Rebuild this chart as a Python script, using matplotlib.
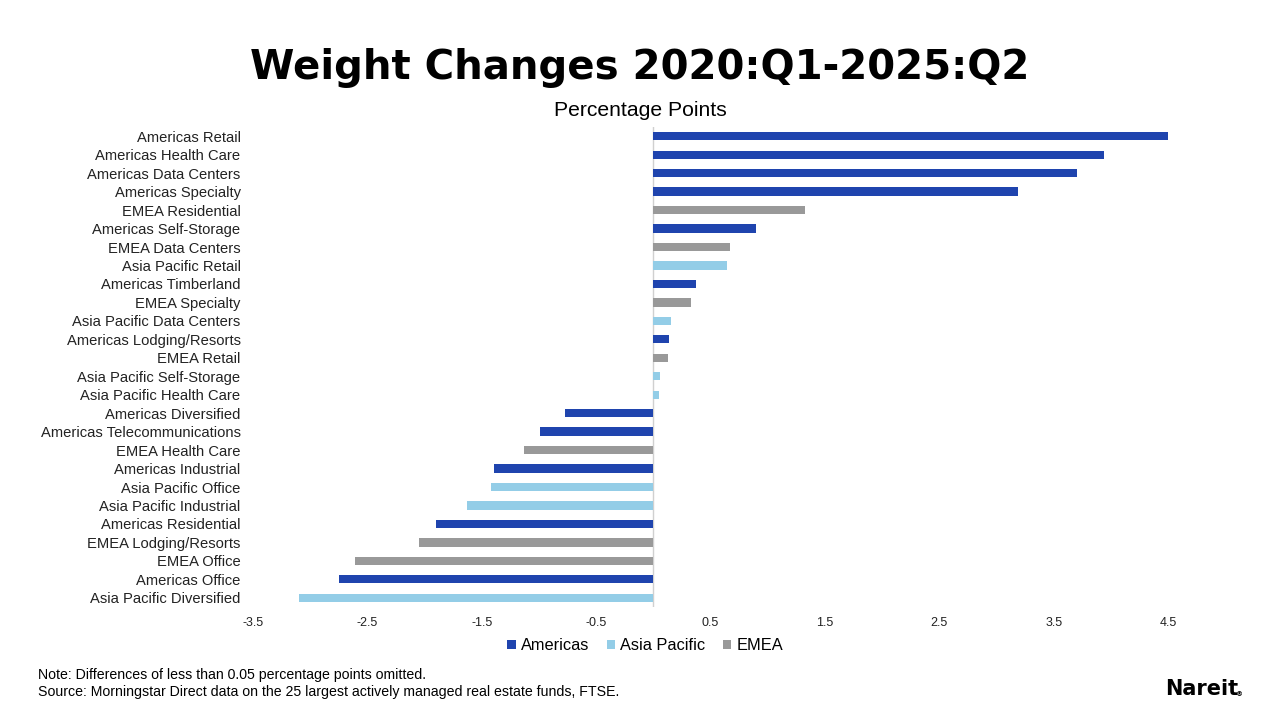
import matplotlib
matplotlib.use("Agg")
import matplotlib.pyplot as plt
from matplotlib.patches import Patch
import numpy as np

categories = [
    "Americas Retail", "Americas Health Care", "Americas Data Centers", "Americas Specialty",
    "EMEA Residential", "Americas Self-Storage", "EMEA Data Centers", "Asia Pacific Retail",
    "Americas Timberland", "EMEA Specialty", "Asia Pacific Data Centers", "Americas Lodging/Resorts",
    "EMEA Retail", "Asia Pacific Self-Storage", "Asia Pacific Health Care", "Americas Diversified",
    "Americas Telecommunications", "EMEA Health Care", "Americas Industrial", "Asia Pacific Office",
    "Asia Pacific Industrial", "Americas Residential", "EMEA Lodging/Resorts", "EMEA Office",
    "Americas Office", "Asia Pacific Diversified",
]
values = [
    4.50, 3.94, 3.70, 3.19,
    1.33, 0.90, 0.67, 0.645,
    0.375, 0.33, 0.155, 0.135,
    0.125, 0.06, 0.05, -0.77,
    -0.99, -1.13, -1.39, -1.42,
    -1.63, -1.90, -2.05, -2.61,
    -2.75, -3.10,
]
regions = ["Americas", "Asia Pacific", "EMEA"]
region_colors = {"Americas": "#1F44AE", "Asia Pacific": "#93CDE7", "EMEA": "#999999"}
x_ticks = [-3.5, -2.5, -1.5, -0.5, 0.5, 1.5, 2.5, 3.5, 4.5]


def region_of(name):
    for r in regions:
        if name.startswith(r):
            return r
    return None


font = "Liberation Sans"
fig = plt.figure(figsize=(12.8, 7.2), dpi=100)
ax = fig.add_axes([0.1977, 0.1569, 0.7148, 0.6667])

y = np.arange(len(categories))
colors = [region_colors[region_of(c)] for c in categories]
ax.barh(y, values, height=0.45, color=colors)

ax.set_xlim(-3.5, 4.5)
ax.set_ylim(len(categories) - 0.5, -0.5)
ax.set_xticks(x_ticks)
ax.set_xticklabels([f"{t:g}" for t in x_ticks], fontsize=9, family=font, color="#222222")
ax.set_yticks(y)
ax.set_yticklabels(categories, fontsize=10.6, family=font, color="#222222")
ax.tick_params(axis="both", length=0)
ax.tick_params(axis="y", pad=9)
ax.tick_params(axis="x", pad=7)
for s in ax.spines.values():
    s.set_visible(False)
ax.axvline(0, color="#D0D0D0", lw=1.0, zorder=0)

fig.text(0.5, 0.905, "Weight Changes 2020:Q1-2025:Q2", ha="center", va="center",
         fontsize=29, fontweight="heavy", family="DejaVu Sans", color="black")
fig.text(0.5, 0.847, "Percentage Points", ha="center", va="center",
         fontsize=15.2, family=font, color="black")

handles = [Patch(facecolor=region_colors[r], label=r) for r in regions]
fig.legend(handles=handles, loc="center", bbox_to_anchor=(0.504, 0.103), ncol=3,
           frameon=False, prop={"family": font, "size": 11.8}, handlelength=0.5,
           handleheight=0.5, handletextpad=0.3, columnspacing=1.1)

fig.text(0.0297, 0.063, "Note: Differences of less than 0.05 percentage points omitted.",
         ha="left", va="center", fontsize=10.2, family=font, color="black")
fig.text(0.0297, 0.039, "Source: Morningstar Direct data on the 25 largest actively managed real estate funds, FTSE.",
         ha="left", va="center", fontsize=10.2, family=font, color="black")

fig.text(0.967, 0.043, "Nareit", ha="right", va="center", fontsize=15,
         fontweight="bold", family="DejaVu Sans", color="black")
fig.text(0.971, 0.036, "®", ha="right", va="center", fontsize=5,
         fontweight="bold", family="DejaVu Sans", color="black")

fig.savefig("out.png", dpi=100)
